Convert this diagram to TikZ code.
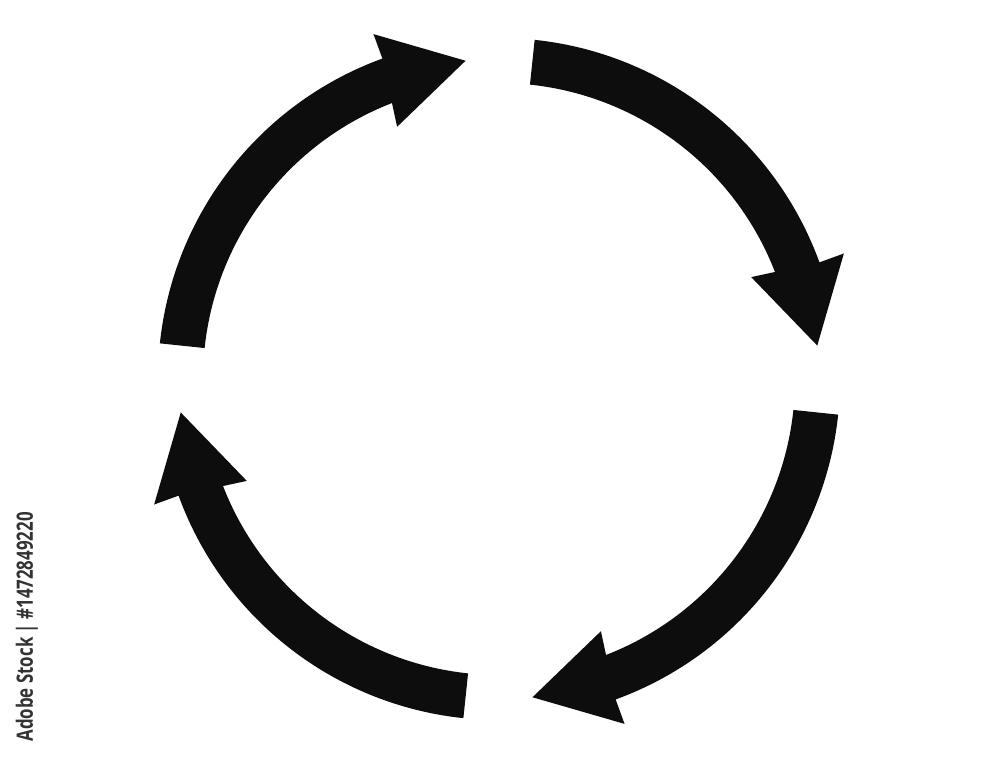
\documentclass[tikz,border=0pt]{standalone}
\usepackage{fontspec}
\setmainfont{Open Sans}
\begin{document}
\begin{tikzpicture}[
  cyclearrow/.style={fill=black!95, draw=none},
  stamp/.style={text=black!80, font=\fontsize{6.4}{7}\selectfont\bfseries, inner sep=0pt, rotate=90, xscale=0.75}
]
\useasboundingbox (0,0) rectangle (10,7.59);
\coordinate (c) at (4.99,3.80);
\foreach \k in {0,1,2,3}{
  \begin{scope}[shift={(c)}, rotate=-90*\k]
    \fill[cyclearrow] (84:3.41) arc[start angle=84, end angle=20, radius=3.41]
      -- (20:3.67) -- (6:3.20) -- (22:2.72) -- (21.2:2.96)
      arc[start angle=21.2, end angle=84, radius=2.96] -- cycle;
  \end{scope}
}
\node[stamp, anchor=base west] (stamptext) at (0.33,0.17) {Adobe Stock | \#1472849220};
\end{tikzpicture}
\end{document}
